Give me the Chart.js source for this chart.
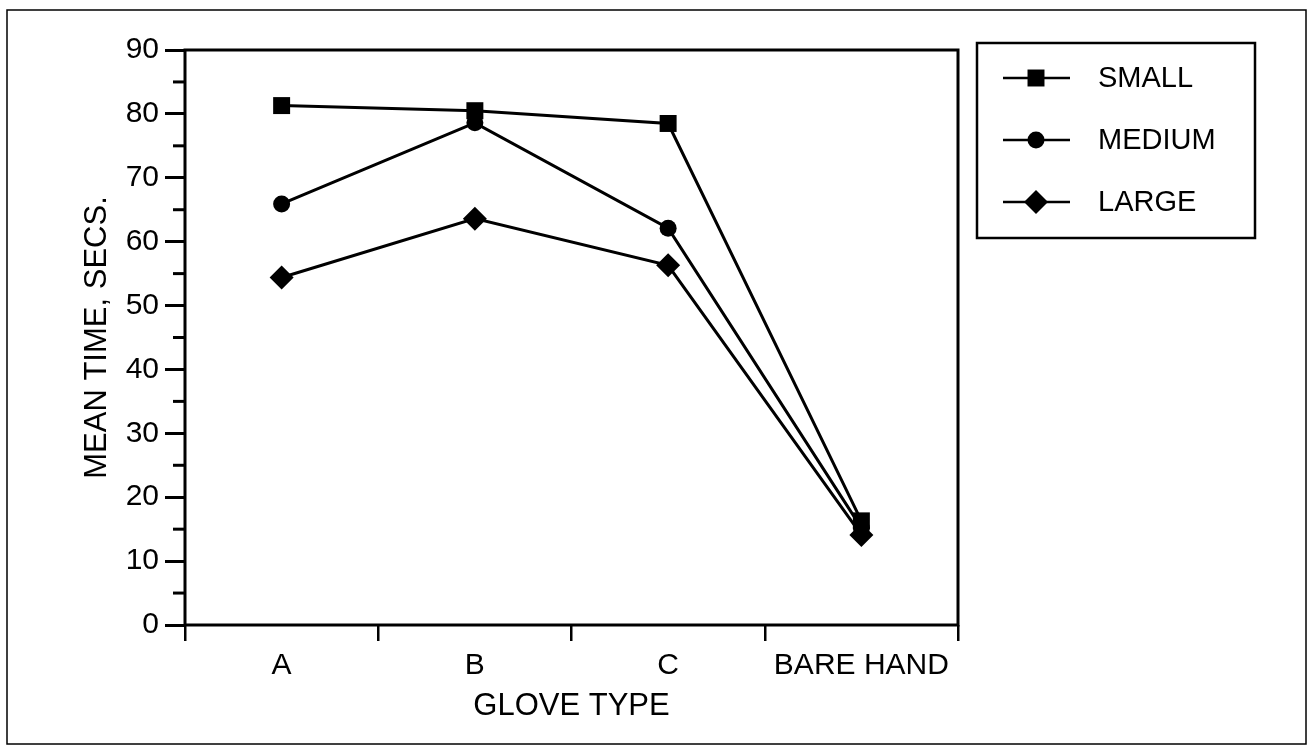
<!DOCTYPE html>
<html>
<head>
<meta charset="utf-8">
<script src="https://cdn.jsdelivr.net/npm/chart.js@4/dist/chart.umd.min.js"></script>
<style>
  html, body { margin: 0; padding: 0; background: #fff; }
  #wrap { width: 1313px; height: 750px; position: relative; }
</style>
</head>
<body>
<div id="wrap"><canvas id="c" width="1313" height="750"></canvas></div>
<script>
const categories = ['A', 'B', 'C', 'BARE HAND'];
const seriesNames = ['SMALL', 'MEDIUM', 'LARGE'];
const smallValues = [81.3, 80.5, 78.5, 16.3];
const mediumValues = [65.9, 78.6, 62.1, 15.2];
const largeValues = [54.4, 63.6, 56.3, 14.1];
const yTickMin = 0, yTickMax = 90, yMajorStep = 10, yMinorStep = 5;
const xTitle = 'GLOVE TYPE';
const yTitle = 'MEAN TIME, SECS.';

const FONT = "'Liberation Sans', Arial, Helvetica, sans-serif";
const pointStyles = ['rect', 'circle', 'rectRot'];
const pointRadii = [12, 8.5, 12];
const allValues = [smallValues, mediumValues, largeValues];

const datasets = seriesNames.map((name, i) => ({
  label: name,
  data: allValues[i],
  borderColor: '#000',
  backgroundColor: '#000',
  borderWidth: 3,
  pointStyle: pointStyles[i],
  pointRadius: pointRadii[i],
  pointBackgroundColor: '#000',
  pointBorderColor: '#000',
  pointBorderWidth: 0,
  tension: 0,
  fill: false
}));

const framePlugin = {
  id: 'frame',
  afterDraw(chart) {
    const ctx = chart.ctx;
    const a = chart.chartArea;
    ctx.save();
    // outer border
    ctx.strokeStyle = '#000';
    ctx.lineWidth = 1.5;
    ctx.strokeRect(7, 10, 1299, 734);
    // plot box
    ctx.lineWidth = 3;
    ctx.strokeRect(a.left, a.top, a.right - a.left, a.bottom - a.top);
    // minor y ticks
    const ys = chart.scales.y;
    ctx.lineWidth = 3;
    for (let v = yTickMin + yMinorStep; v < yTickMax; v += yMajorStep) {
      const py = ys.getPixelForValue(v);
      ctx.beginPath();
      ctx.moveTo(a.left - 12, py);
      ctx.lineTo(a.left, py);
      ctx.stroke();
    }
    // legend
    const lx = 977, ly = 43, lw = 278, lh = 195;
    ctx.lineWidth = 2.5;
    ctx.strokeRect(lx, ly, lw, lh);
    const rowY = [78, 140, 202];
    chart.data.datasets.forEach((ds, i) => {
      const y = rowY[i];
      ctx.strokeStyle = '#000';
      ctx.lineWidth = 2.5;
      ctx.beginPath();
      ctx.moveTo(1003, y);
      ctx.lineTo(1070, y);
      ctx.stroke();
      ctx.fillStyle = '#000';
      Chart.helpers.drawPoint(ctx, {
        pointStyle: ds.pointStyle, radius: ds.pointRadius, rotation: 0, borderWidth: 0
      }, 1036, y);
      ctx.fillStyle = '#000';
      ctx.font = '29px ' + FONT;
      ctx.textBaseline = 'middle';
      ctx.textAlign = 'left';
      ctx.fillText(ds.label, 1098, y + 1);
    });
    ctx.restore();
  }
};

new Chart(document.getElementById('c'), {
  type: 'line',
  data: { labels: categories, datasets },
  options: {
    responsive: false,
    animation: false,
    events: [],
    layout: { padding: { left: 0, top: 50, right: 355, bottom: 0 } },
    plugins: { legend: { display: false }, tooltip: { enabled: false } },
    scales: {
      x: {
        type: 'category',
        offset: true,
        grid: { offset: true, drawOnChartArea: false, tickLength: 16, color: '#000', lineWidth: 2.5 },
        border: { display: false },
        ticks: { color: '#000', font: { family: FONT, size: 30 }, padding: 7, maxRotation: 0, autoSkip: false },
        title: { display: true, text: xTitle, color: '#000', font: { family: FONT, size: 31 }, padding: { top: 0, bottom: 25 } },
        afterFit(s) { s.height = 125; }
      },
      y: {
        min: yTickMin,
        max: yTickMax,
        ticks: { stepSize: yMajorStep, color: '#000', font: { family: FONT, size: 30 }, padding: 6 },
        grid: { drawOnChartArea: false, tickLength: 20, color: '#000', lineWidth: 3 },
        border: { display: false },
        title: { display: true, text: yTitle, color: '#000', font: { family: FONT, size: 31 }, padding: { top: 79, bottom: 0 } },
        afterFit(s) { s.width = 185; }
      }
    }
  },
  plugins: [framePlugin]
});
</script>
</body>
</html>
